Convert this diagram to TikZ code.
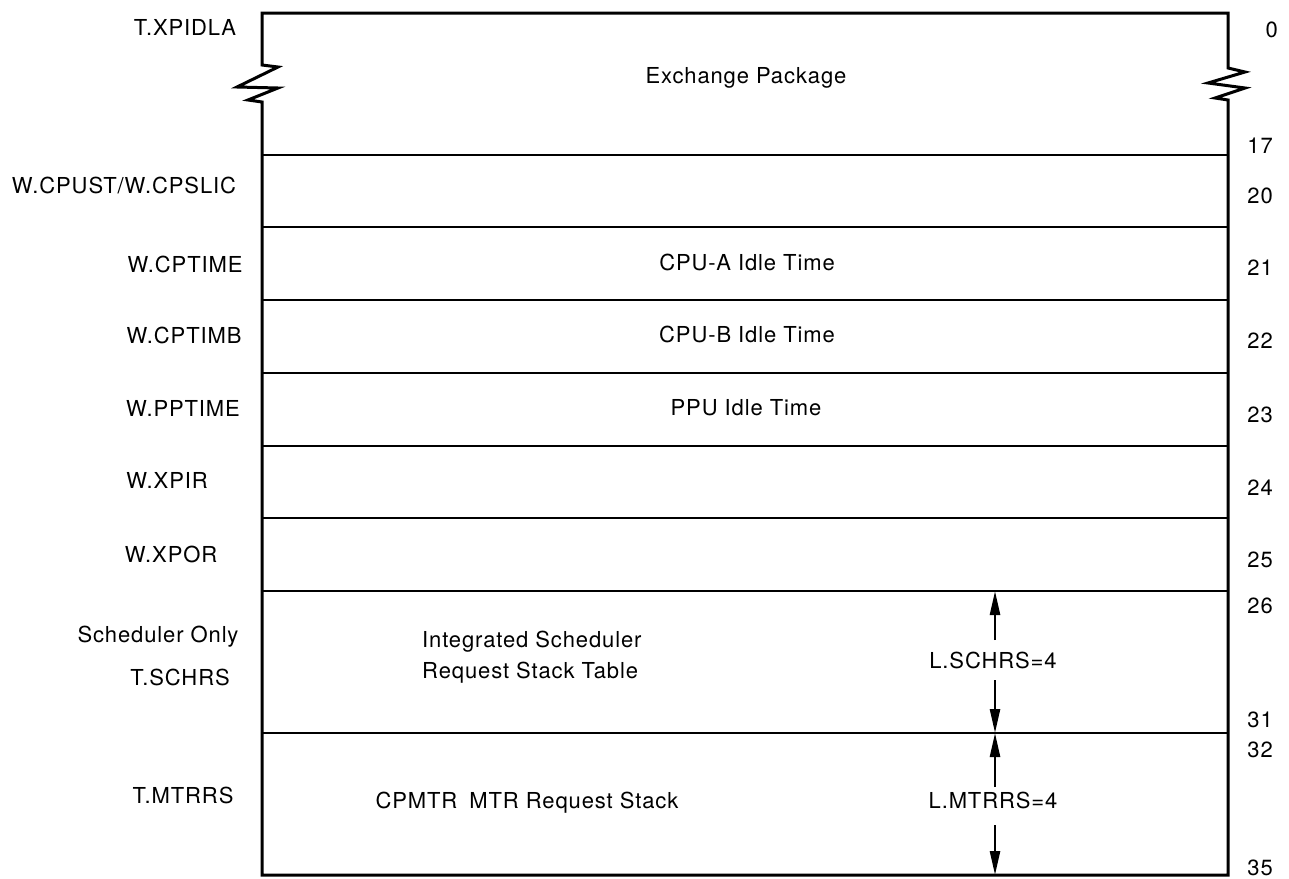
\documentclass[tikz,border=0pt]{standalone}
\usepackage{fontspec}
\setmainfont{TeX Gyre Heros}[LetterSpace=4.0]
\usetikzlibrary{arrows.meta}
\begin{document}
\begin{tikzpicture}[x=1pt,y=-1pt,
  box/.style={line width=3pt, line join=miter},
  sep/.style={line width=2.8pt},
  lbl/.style={font=\fontsize{22}{26}\selectfont, inner sep=0pt, anchor=base},
  lblw/.style={lbl, anchor=base west},
  num/.style={lbl, anchor=base east},
  dim/.style={line width=2.5pt, -{Triangle[length=24pt,width=10pt]}}]
\useasboundingbox (0,0) rectangle (1289,878);
% outer frame with break marks
\draw[box] (262,65) -- (262,13) -- (1228,13) -- (1228,68) -- (1245,72) -- (1208,83) -- (1245,88) -- (1215,98) -- (1228,100)
  -- (1228,875) -- (262,875) -- (262,102) -- (248,100) -- (278,88) -- (237,87) -- (278,67) -- cycle;
% separators
\foreach \yy in {155,227,300,373,446,518,591,733}
  \draw[sep] (262,\yy) -- (1228,\yy);
% left labels
\node[lbl] (txpidla) at (185,35) {T.XPIDLA};
\node[lbl] (wcpust) at (124,193) {W.CPUST/W.CPSLIC};
\node[lbl] (wcptime) at (185,272) {W.CPTIME};
\node[lbl] (wcptimb) at (184,343) {W.CPTIMB};
\node[lbl] (wpptime) at (183,416) {W.PPTIME};
\node[lbl] (wxpir) at (167,488) {W.XPIR};
\node[lbl] (wxpor) at (171,562) {W.XPOR};
\node[lbl] (schonly) at (158,642) {Scheduler Only};
\node[lbl] (tschrs) at (180,685) {T.SCHRS};
\node[lbl] (tmtrrs) at (183,803) {T.MTRRS};
% field texts
\node[lbl] (xp) at (746,83) {Exchange Package};
\node[lbl] (cpua) at (747,270) {CPU-A Idle Time};
\node[lbl] (cpub) at (747,342) {CPU-B Idle Time};
\node[lbl] (ppu) at (746,415) {PPU Idle Time};
\node[lblw] (isr1) at (422,647) {Integrated Scheduler};
\node[lblw] (isr2) at (422,678) {Request Stack Table};
\node[lbl] (cpmtr) at (527,808) {CPMTR\hspace{0.55em}MTR Request Stack};
\node[lbl] (lschrs) at (993,668) {L.SCHRS=4};
\node[lbl] (lmtrrs) at (993,808) {L.MTRRS=4};
% word numbers
\node[num] (n0) at (1278,37) {0};
\node[num] (n17) at (1273,153) {17};
\node[num] (n20) at (1273,203) {20};
\node[num] (n21) at (1273,275) {21};
\node[num] (n22) at (1273,348) {22};
\node[num] (n23) at (1273,422) {23};
\node[num] (n24) at (1273,495) {24};
\node[num] (n25) at (1273,567) {25};
\node[num] (n26) at (1273,613) {26};
\node[num] (n31) at (1273,727) {31};
\node[num] (n32) at (1273,757) {32};
\node[num] (n35) at (1273,875) {35};
% length arrows
\coordinate (a1h) at (995,591);
\coordinate (a1t) at (995,640);
\coordinate (a2t) at (995,680);
\coordinate (a2h) at (995,733);
\coordinate (a3h) at (995,733);
\coordinate (a3t) at (995,787);
\coordinate (a4t) at (995,825);
\coordinate (a4h) at (995,875);
\draw[dim] (a1t) -- (a1h);
\draw[dim] (a2t) -- (a2h);
\draw[dim] (a3t) -- (a3h);
\draw[dim] (a4t) -- (a4h);
\end{tikzpicture}
\end{document}
